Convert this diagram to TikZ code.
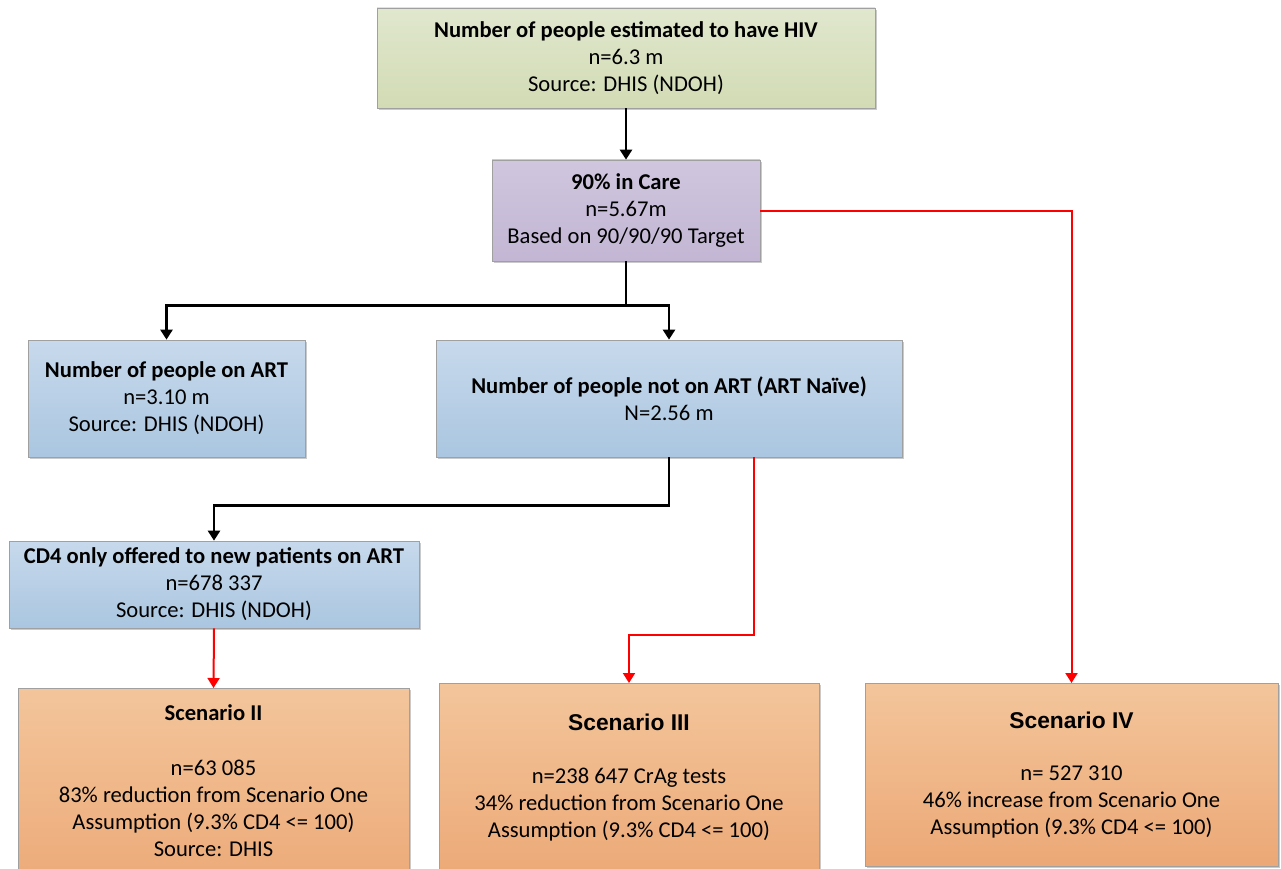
\documentclass[tikz,border=0pt]{standalone}
\usepackage{fontspec}
\setmainfont{Carlito}
\newfontfamily\arialf{Liberation Sans}
\usetikzlibrary{arrows.meta,shadows}
\definecolor{gtop}{RGB}{224,231,206}
\definecolor{gbot}{RGB}{210,219,180}
\definecolor{ptop}{RGB}{208,198,222}
\definecolor{pbot}{RGB}{194,182,212}
\definecolor{btop}{RGB}{199,217,236}
\definecolor{bbot}{RGB}{170,198,224}
\definecolor{otop}{RGB}{243,197,155}
\definecolor{obot}{RGB}{236,168,118}
\definecolor{edge}{RGB}{160,160,160}
\begin{document}
\begin{tikzpicture}[x=1pt,y=-1pt,
  box/.style={draw=edge, line width=0.7pt, rectangle, align=center,
    font=\fontsize{22.6}{27}\selectfont,
    drop shadow={shadow xshift=2pt, shadow yshift=-2pt, opacity=0.35, fill=black!60}},
  green/.style={box, top color=gtop, bottom color=gbot},
  purple/.style={box, top color=ptop, bottom color=pbot},
  blue/.style={box, top color=btop, bottom color=bbot},
  orange/.style={box, top color=otop, bottom color=obot},
  txt/.style={align=center, inner sep=0pt, font=\fontsize{22.6}{27}\selectfont},
  atitle/.style={inner sep=0pt, font=\arialf\bfseries\fontsize{22.8}{26}\selectfont},
  blk/.style={line width=2.5pt, -{Triangle[width=12pt,length=10pt]}},
  red/.style={draw=red, line width=2pt, -{Triangle[width=12pt,length=10pt]}}
]
\useasboundingbox (0,0) rectangle (1281,869);
\clip (0,0) rectangle (1281,869);

\node[green, minimum width=498pt, minimum height=100pt] (hiv) at (626,58)
  {\textbf{Number of people estimated to have HIV}\\n=6.3 m\\Source: DHIS (NDOH)};
\node[purple, minimum width=268pt, minimum height=101pt] (care) at (626,210.5)
  {\textbf{90\% in Care}\\n=5.67m\\Based on 90/90/90 Target};
\node[blue, minimum width=277pt, minimum height=117pt] (art) at (166.5,398.5)
  {\textbf{Number of people on ART}\\n=3.10 m\\Source: DHIS (NDOH)};
\node[blue, minimum width=466pt, minimum height=117pt] (naive) at (669,398.5)
  {\textbf{Number of people not on ART (ART Naïve)}\\N=2.56 m};
\node[blue, minimum width=410pt, minimum height=87pt] (cd4) at (214,584.5)
  {\textbf{CD4 only offered to new patients on ART}\\n=678 337\\Source: DHIS (NDOH)};

\node[orange, minimum width=391pt, minimum height=210pt, anchor=north] (s2) at (213.5,688) {};
\node[orange, minimum width=380pt, minimum height=200pt, anchor=north] (s3) at (629,683) {};
\node[orange, minimum width=413pt, minimum height=183pt, anchor=north] (s4) at (1071.5,683) {};

\node[txt] (s2t) at (213.5,713) {\textbf{Scenario II}};
\node[txt] (s2b) at (213.5,808) {n=63 085\\83\% reduction from Scenario One\\Assumption (9.3\% CD4 <= 100)\\Source: DHIS};
\node[atitle] (s3t) at (629,722) {Scenario III};
\node[txt] (s3b) at (629,805) {n=238 647 CrAg tests\\34\% reduction from Scenario One\\Assumption (9.3\% CD4 <= 100)};
\node[atitle] (s4t) at (1071.5,720) {Scenario IV};
\node[txt] (s4b) at (1071.5,802) {n= 527 310\\46\% increase from Scenario One\\Assumption (9.3\% CD4 <= 100)};

\draw[blk] (hiv.south) -- (care.north);
\draw[blk] (care.south) -- ++(0,44) -| (art.north);
\draw[blk] (care.south) -- ++(0,44) -| (naive.north);
\draw[blk] (naive.south) -- ++(0,48) -| (cd4.north);
\draw[red] (cd4.south) -- (s2.north);
\draw[red] ([xshift=85pt]naive.south) -- ++(0,178) -| (s3.north);
\draw[red] (care.east) -| (s4.north);
\end{tikzpicture}
\end{document}
